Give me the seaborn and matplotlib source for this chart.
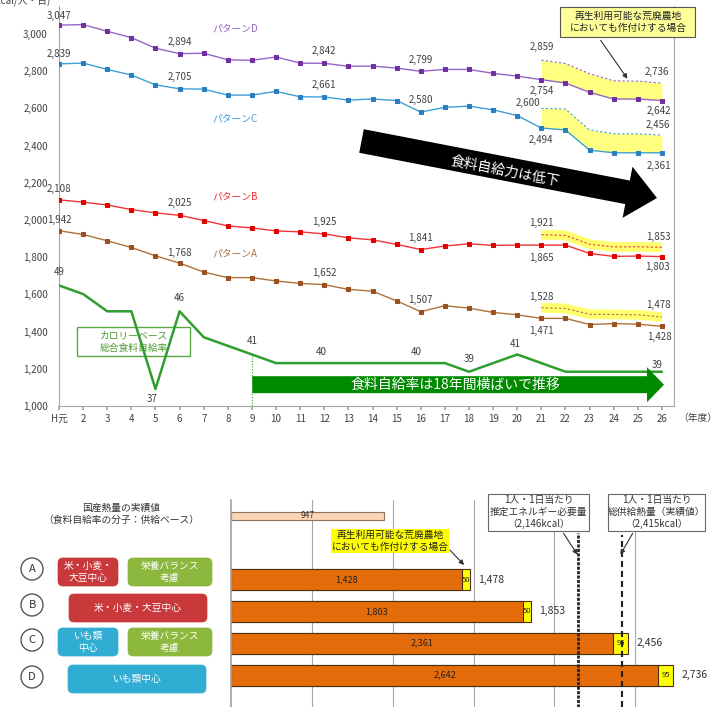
import numpy as np
import pandas as pd
import matplotlib.pyplot as plt
import matplotlib.patches as mpatches
import seaborn as sns

W, H = 721, 707

# --- top chart: kcal per person per day by fiscal year (H元 .. H26) ---
years = ['H元'] + [str(n) for n in range(2, 27)]
pattern_d = [3047, 3050, 3014, 2980, 2923, 2894, 2896, 2861, 2858, 2876, 2843, 2842, 2826,
             2827, 2816, 2799, 2809, 2809, 2788, 2773, 2754, 2736, 2686, 2650, 2650, 2642]
pattern_c = [2839, 2843, 2809, 2779, 2726, 2705, 2703, 2671, 2671, 2691, 2662, 2661, 2644,
             2650, 2642, 2580, 2605, 2612, 2592, 2561, 2494, 2484, 2375, 2361, 2361, 2361]
pattern_b = [2108, 2096, 2080, 2056, 2038, 2025, 1997, 1968, 1957, 1941, 1936, 1925, 1904,
             1893, 1869, 1841, 1860, 1872, 1863, 1865, 1865, 1865, 1820, 1804, 1806, 1803]
pattern_a = [1942, 1922, 1888, 1852, 1807, 1768, 1720, 1690, 1690, 1672, 1659, 1652, 1627,
             1617, 1565, 1507, 1539, 1526, 1503, 1490, 1471, 1471, 1438, 1443, 1440, 1428]
# H21-H26 when reusable abandoned farmland is also planted
fallow_d = [2859, 2841, 2786, 2748, 2746, 2736]
fallow_c = [2600, 2596, 2484, 2463, 2463, 2456]
fallow_b = [1921, 1917, 1870, 1855, 1856, 1853]
fallow_a = [1528, 1524, 1493, 1492, 1490, 1478]
# calorie based self-sufficiency rate (%)
self_rate = [49, 48, 46, 46, 37, 46, 43, 42, 41, 40, 40, 40, 40, 40, 40, 40, 40, 39, 40, 41,
             40, 39, 39, 39, 39, 39]

# --- bottom chart ---
bar_rows = ['実績', '注', 'A', 'B', 'C', 'D']
actual_kcal = 947
base_kcal = [1428, 1803, 2361, 2642]
fallow_kcal = [50, 50, 95, 95]
total_kcal = [1478, 1853, 2456, 2736]
need_kcal = 2146
supply_kcal = 2415

sns.set_theme(style='white')
plt.rcParams['font.family'] = ['Noto Sans CJK JP', 'DejaVu Sans']

GRAY = '#A6A6A6'
TXT = '#404040'

fig = plt.figure(figsize=(W / 100, H / 100), dpi=100)


def fpos(x, y):
    return x / W, 1 - y / H


def inch(x, y):
    return x / 100, (H - y) / 100


def rect(target, x0, y0, x1, y1, fc, ec, lw=0.8, round_=False, z=1):
    style = 'round,pad=0,rounding_size=0.05' if round_ else 'square,pad=0'
    p = mpatches.FancyBboxPatch(inch(x0, y1), (x1 - x0) / 100, (y1 - y0) / 100,
                                boxstyle=style, transform=fig.dpi_scale_trans,
                                fc=fc, ec=ec, lw=lw, zorder=z, clip_on=False)
    target.add_artist(p)


def arrow(x0, y0, x1, y1, lw=0.8):
    a = mpatches.FancyArrowPatch(inch(x0, y0), inch(x1, y1), transform=fig.dpi_scale_trans,
                                 arrowstyle='-|>', mutation_scale=7, color='#333333', lw=lw)
    fig.add_artist(a)


# ================= top chart =================
ax = fig.add_axes([59 / W, 1 - 406 / H, (674 - 59) / W, 400 / H])
x = np.arange(len(years))
xf = x[20:]

series = [
    ('パターンD', pattern_d, fallow_d, '#9466C4', '#7030A0', 'fill', (7.3, 3027)),
    ('パターンC', pattern_c, fallow_c, '#3E9FD8', '#2B7EC0', 'fill', (7.3, 2548)),
    ('パターンB', pattern_b, fallow_b, '#F0323A', '#E00000', 'glow', (7.3, 2124)),
    ('パターンA', pattern_a, fallow_a, '#B0703A', '#9A5020', 'glow', (7.3, 1822)),
]

for name, vals, fallow, col, mcol, band, pos in series:
    if band == 'fill':
        ax.fill_between(xf, np.array(vals)[20:], fallow, color='#FFFF80', lw=0, zorder=1)
    else:
        sns.lineplot(x=xf, y=fallow, ax=ax, color='#FFFF60', linewidth=7, alpha=0.9,
                     solid_capstyle='butt', zorder=1)
    sns.lineplot(x=xf, y=fallow, ax=ax, color=col, linewidth=0.8,
                 linestyle=(0, (2, 2)), zorder=2)
    sns.lineplot(x=x, y=vals, ax=ax, color=col, linewidth=1, marker='s', markersize=3,
                 markeredgecolor=mcol, markerfacecolor=mcol, zorder=3)
    ax.text(pos[0], pos[1], name, color=col, fontsize=7, ha='center', va='center')


def put(axis, i, v, dy, dx=0, color=TXT):
    axis.annotate(f'{v:,}', xy=(i, v), xytext=(dx, dy), textcoords='offset pixels',
                  ha='center', va='center', fontsize=7, color=color)


# value labels: (index, dy, dx)
label_offsets = {
    'パターンD': [(0, 9, 0), (5, 12, 0), (11, 12, 0), (15, 11, 0)],
    'パターンC': [(0, 10, 0), (5, 12, 0), (11, 12, 0), (15, 12, 0)],
    'パターンB': [(0, 11, 0), (5, 12, 0), (11, 12, 0), (15, 12, 0)],
    'パターンA': [(0, 11, 0), (5, 10, 0), (11, 12, 0), (15, 12, 0)],
}
fallow_offsets = {
    'パターンD': [(20, 13, 0, 'f'), (20, -11, 0, 'l'), (25, 11, -5, 'f'), (25, -10, -3, 'l')],
    'パターンC': [(20, 5, -13, 'f'), (20, -12, 0, 'l'), (25, 10, -4, 'f'), (25, -13, -3, 'l')],
    'パターンB': [(20, 12, 0, 'f'), (20, -13, 0, 'l'), (25, 10, -4, 'f'), (25, -10, -4, 'l')],
    'パターンA': [(20, 11, 0, 'f'), (20, -13, 0, 'l'), (25, 12, -4, 'f'), (25, -11, -3, 'l')],
}
for name, vals, fallow, *_ in series:
    for i, dy, dx in label_offsets[name]:
        put(ax, i, vals[i], dy, dx)
    for i, dy, dx, kind in fallow_offsets[name]:
        v = fallow[i - 20] if kind == 'f' else vals[i]
        put(ax, i, v, dy, dx)

ax.set_xlim(0, 25.5)
ax.set_ylim(1000, 3150)
ax.set_xticks(x, years)
yt = list(range(1000, 3001, 200))
ax.set_yticks(yt, [f'{v:,}' for v in yt])
ax.tick_params(axis='x', bottom=True, length=3, color=GRAY, labelsize=7, labelcolor=TXT, pad=3)
ax.tick_params(axis='y', left=False, length=0, labelsize=7, labelcolor=TXT, pad=8)
ax.set_xlabel('')
ax.set_ylabel('')
ax.spines['top'].set_visible(False)
for s in ['left', 'right', 'bottom']:
    ax.spines[s].set_color(GRAY)
    ax.spines[s].set_linewidth(0.8)

# green "カロリーベース" box sits under the green line
rect(ax, 77, 327, 190, 356, 'white', '#5AA845', lw=1, z=0.5)
ax.text(*inch(134, 341.5), 'カロリーベース\n総合食料自給率', transform=fig.dpi_scale_trans,
        ha='center', va='center', fontsize=7, color='#4E9A2E', linespacing=1.3)

# self-sufficiency rate on its own hidden scale
ax2 = ax.twinx()
sns.lineplot(x=x, y=self_rate, ax=ax2, color='#2F9E2F', linewidth=1.8)
ax2.vlines(8, 35.03, self_rate[8], color='#2F9E2F', lw=0.8, linestyle=(0, (1, 1.5)))
ax2.set_xlim(0, 25.5)
ax2.set_ylim(35.03, 81.37)
ax2.axis('off')
for i, dy, dx in [(0, 13, 0), (4, -10, -3), (5, 13, 0), (8, 13, 0), (11, 11, -3),
                  (15, 11, -5), (17, 13, 0), (19, 10, -2), (25, 7, -5)]:
    put(ax2, i, self_rate[i], dy, dx)

# arrows
ga = mpatches.FancyArrow(*inch(252.3, 384.7), (664 - 252.3) / 100, 0, width=0.17,
                         head_width=0.35, head_length=0.17, length_includes_head=True,
                         transform=fig.dpi_scale_trans, color='#008A00', lw=0)
fig.add_artist(ga)
fig.text(*fpos(455, 385), '食料自給率は18年間横ばいで推移', color='white', fontsize=10,
         ha='center', va='center')

ba = mpatches.FancyArrow(*inch(361.5, 141), (657 - 361.5) / 100, -(198 - 141) / 100,
                         width=0.24, head_width=0.52, head_length=0.30,
                         length_includes_head=True, transform=fig.dpi_scale_trans,
                         color='black', lw=0)
fig.add_artist(ba)
fig.text(*fpos(505, 171), '食料自給力は低下', color='white', fontsize=10, ha='center',
         va='center', rotation=-10.9, rotation_mode='anchor')

# callout (top)
rect(fig, 560, 7, 695, 37, '#FFFF99', '#555555')
fig.text(*fpos(628, 22), '再生利用可能な荒廃農地\nにおいても作付けする場合', fontsize=7,
         color='#222222', ha='center', va='center', linespacing=1.25)
arrow(599, 38, 629, 81)

fig.text(*fpos(50, 1), '(kcal/人・日)', fontsize=7, color=TXT, ha='right', va='center')
fig.text(*fpos(698, 418), '（年度）', fontsize=7, color=TXT, ha='center', va='center')

# ================= bottom chart =================
axb = fig.add_axes([231 / W, 0, (700 - 231) / W, 207 / H])
df_act = pd.DataFrame({'row': ['実績'], 'kcal': [actual_kcal]})
df_sc = pd.DataFrame({'row': bar_rows[2:], 'base': base_kcal, 'extra': fallow_kcal,
                      'total': total_kcal})

sns.barplot(data=df_sc, x='total', y='row', order=bar_rows, orient='h', color='#FFFF00',
            saturation=1, width=0.66, edgecolor='#4A3010', linewidth=0.8, errorbar=None, ax=axb)
sns.barplot(data=df_sc, x='base', y='row', order=bar_rows, orient='h', color='#E46C0A',
            saturation=1, width=0.66, edgecolor='#4A3010', linewidth=0.8, errorbar=None, ax=axb)
sns.barplot(data=df_act, x='kcal', y='row', order=bar_rows, orient='h', color='#FBD4B4',
            saturation=1, width=0.25, edgecolor='#8C7560', linewidth=0.8, errorbar=None, ax=axb)

axb.set_ylim(6.006, -0.503)
axb.set_xlim(0, 2900)
axb.set_yticks([])
axb.set_xticks([500, 1000, 1500, 2000, 2500])
axb.set_xticklabels([])
axb.tick_params(length=0)
axb.grid(axis='x', color=GRAY, lw=0.8)
axb.set_axisbelow(True)
axb.set_xlabel('')
axb.set_ylabel('')
for s in ['top', 'right', 'bottom']:
    axb.spines[s].set_visible(False)
axb.spines['left'].set_color(GRAY)

axb.text(actual_kcal / 2, 0, f'{actual_kcal:,}', fontsize=6, color='#333333',
         ha='center', va='center')
for _, r in df_sc.iterrows():
    yp = bar_rows.index(r['row'])
    axb.text(r['base'] / 2, yp, f"{r['base']:,}", fontsize=6.5, color='#222222',
             ha='center', va='center')
    axb.text((r['base'] + r['total']) / 2, yp, f"{r['extra']}", fontsize=5.5, color='#222222',
             ha='center', va='center')
    axb.text(r['total'] + 50, yp, f"{r['total']:,}", fontsize=7.5, color='#333333',
             ha='left', va='center')

axb.axvline(need_kcal, ymin=0, ymax=0.84, color='#222222', lw=2, linestyle=(0, (1.1, 0.5)))
axb.axvline(supply_kcal, ymin=0, ymax=0.83, color='#222222', lw=1.5, linestyle=(0, (2.9, 1.9)))

rect(fig, 488, 494, 589, 531, 'white', '#666666')
fig.text(*fpos(539, 512), f'1人・1日当たり\n推定エネルギー必要量\n（{need_kcal:,}kcal）',
         fontsize=7, color='#333333', ha='center', va='center', linespacing=1.2)
arrow(562, 531, 579, 557)
rect(fig, 608, 494, 705, 531, 'white', '#666666')
fig.text(*fpos(656.5, 512), f'1人・1日当たり\n総供給熱量（実績値）\n（{supply_kcal:,}kcal）',
         fontsize=7, color='#333333', ha='center', va='center', linespacing=1.2)
arrow(634, 531, 619, 557)

# yellow callout (bottom)
fig.text(*fpos(390, 541), '再生利用可能な荒廃農地\nにおいても作付けする場合', fontsize=7,
         color='#222222', ha='center', va='center', linespacing=1.2,
         bbox=dict(boxstyle='square,pad=0.1', fc='#FFFF00', ec='none'))
arrow(448, 548, 466, 567)

fig.text(*fpos(121, 514), '国産熱量の実績値\n（食料自給率の分子：供給ベース）', fontsize=7,
         color='#333333', ha='center', va='center', linespacing=1.3)

# scenario labels
RED, GREEN, BLUE = '#C9393C', '#8DB83E', '#31ACD2'
boxes = [
    (58, 558, 118, 586, RED, '米・小麦・\n大豆中心'),
    (128, 558, 212, 586, GREEN, '栄養バランス\n考慮'),
    (69, 594, 207, 622, RED, '米・小麦・大豆中心'),
    (58, 628, 118, 656, BLUE, 'いも類\n中心'),
    (128, 628, 212, 656, GREEN, '栄養バランス\n考慮'),
    (68, 665, 206, 693, BLUE, 'いも類中心'),
]
for x0, y0, x1, y1, c, t in boxes:
    rect(fig, x0, y0, x1, y1, c, c, lw=0.5, round_=True)
    fig.text(*fpos((x0 + x1) / 2, (y0 + y1) / 2), t, fontsize=7, color='white',
             ha='center', va='center', linespacing=1.2)

for letter, yc in zip(['A', 'B', 'C', 'D'], [569, 605, 640, 677]):
    circ = mpatches.Circle(inch(32, yc), 0.11, transform=fig.dpi_scale_trans,
                           fc='white', ec='#555555', lw=1)
    fig.add_artist(circ)
    fig.text(*fpos(32, yc), letter, fontsize=8, color='#333333', ha='center', va='center')

fig.savefig('out.png', dpi=100)
